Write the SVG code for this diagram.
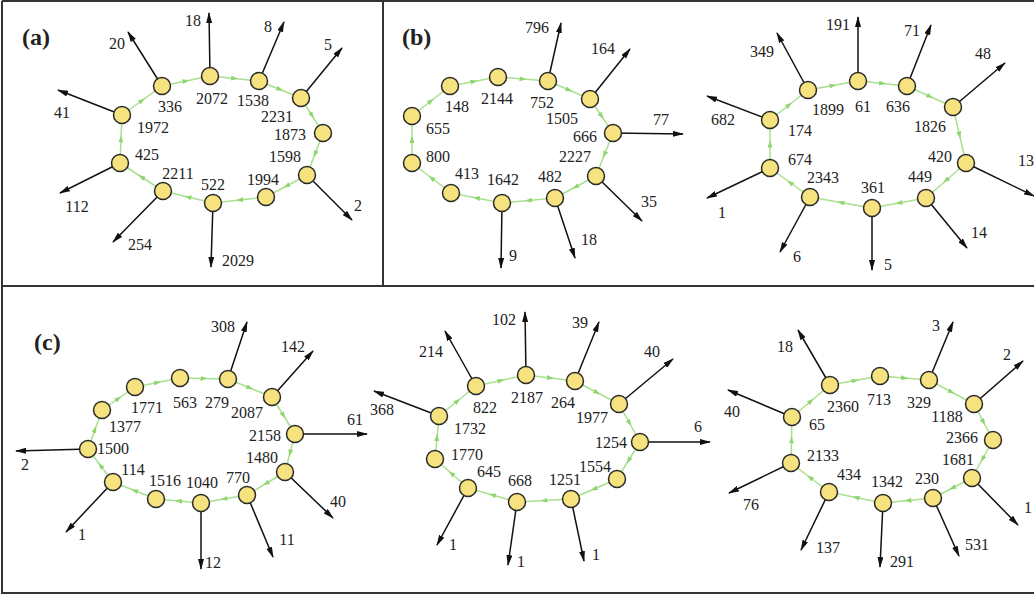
<svg xmlns="http://www.w3.org/2000/svg" width="1034" height="597" viewBox="0 0 1034 597">
<style>
.frame{stroke:#333;stroke-width:2;fill:none}
.node circle{fill:#F6E27E;stroke:#2a2a2a;stroke-width:1.5}
text{font-family:"Liberation Serif","Times New Roman",serif;font-size:16px;fill:#222;text-anchor:middle}
.panel{font-weight:bold;font-size:24px;text-anchor:start}
.ring{stroke:#A9E08E;stroke-width:1.5;fill:none;marker-mid:url(#ga)}
.out{stroke:#111;stroke-width:1.5;fill:none;marker-end:url(#ba)}
</style>
<defs>
<marker id="ga" viewBox="0 0 7 5" markerWidth="7" markerHeight="5" refX="3.5" refY="2.5" orient="auto" markerUnits="userSpaceOnUse"><path d="M0,0 L7,2.5 L0,5 z" fill="#8FD670"/></marker>
<marker id="ba" viewBox="0 0 11 6" markerWidth="11" markerHeight="6" refX="10" refY="3" orient="auto" markerUnits="userSpaceOnUse"><path d="M0,0 L11,3 L0,6 z" fill="#111"/></marker>
</defs>
<rect width="1034" height="597" fill="#fff"/>
<g id="frame">
<path class="frame" d="M2,1 H1034 M2,1 V593 H1034 M383,1 V286 M2,286 H1034"/>
</g>
<g id="panel-labels">
<text class="panel" x="22" y="45">(a)</text>
<text class="panel" x="402" y="45">(b)</text>
<text class="panel" x="34" y="350">(c)</text>
</g>
<g id="connectors">
<!-- ring (a) -->
<path class="ring" d="M162,86 L186,81 L210,76"/>
<path class="ring" d="M210,76 L234.5,78.5 L259,81"/>
<path class="ring" d="M259,81 L280,89.5 L301,98"/>
<path class="ring" d="M301,98 L312,115.5 L323,133"/>
<path class="ring" d="M323,133 L315,154 L307,175"/>
<path class="ring" d="M307,175 L286.5,186 L266,197"/>
<path class="ring" d="M266,197 L239.5,200 L213,203"/>
<path class="ring" d="M213,203 L188,197 L163,191"/>
<path class="ring" d="M163,191 L141.5,177 L120,163"/>
<path class="ring" d="M120,163 L121,139 L122,115"/>
<path class="ring" d="M122,115 L142,100.5 L162,86"/>
<!-- ring (b) left -->
<path class="ring" d="M450,86 L474,81.5 L498,77"/>
<path class="ring" d="M498,77 L523,79 L548,81"/>
<path class="ring" d="M548,81 L569,90 L590,99"/>
<path class="ring" d="M590,99 L601.5,116 L613,133"/>
<path class="ring" d="M613,133 L604.5,154.5 L596,176"/>
<path class="ring" d="M596,176 L575.5,187 L555,198"/>
<path class="ring" d="M555,198 L528.5,200.5 L502,203"/>
<path class="ring" d="M502,203 L476.5,198 L451,193"/>
<path class="ring" d="M451,193 L431.5,178 L412,163"/>
<path class="ring" d="M412,163 L412,139.5 L412,116"/>
<path class="ring" d="M412,116 L431,101 L450,86"/>
<!-- ring (b) right -->
<path class="ring" d="M808,90 L833,85.5 L858,81"/>
<path class="ring" d="M858,81 L882.5,83.5 L907,86"/>
<path class="ring" d="M907,86 L930,96.5 L953,107"/>
<path class="ring" d="M953,107 L959.5,135 L966,163"/>
<path class="ring" d="M966,163 L946,180.5 L926,198"/>
<path class="ring" d="M926,198 L899,203 L872,208"/>
<path class="ring" d="M872,208 L841,202.5 L810,197"/>
<path class="ring" d="M810,197 L790,182.5 L770,168"/>
<path class="ring" d="M770,168 L770,144 L770,120"/>
<path class="ring" d="M770,120 L789,105 L808,90"/>
<!-- ring (c) left -->
<path class="ring" d="M135,387 L157.5,382.5 L180,378"/>
<path class="ring" d="M180,378 L204,378.5 L228,379"/>
<path class="ring" d="M228,379 L250,388 L272,397"/>
<path class="ring" d="M272,397 L283.5,415.5 L295,434"/>
<path class="ring" d="M295,434 L290,453 L285,472"/>
<path class="ring" d="M285,472 L266,483.5 L247,495"/>
<path class="ring" d="M247,495 L224,499 L201,503"/>
<path class="ring" d="M201,503 L178.5,501 L156,499"/>
<path class="ring" d="M156,499 L134.5,490.5 L113,482"/>
<path class="ring" d="M113,482 L100.5,465.5 L88,449"/>
<path class="ring" d="M88,449 L95,429.5 L102,410"/>
<path class="ring" d="M102,410 L118.5,398.5 L135,387"/>
<!-- ring (c) middle -->
<path class="ring" d="M476,386 L501,380.5 L526,375"/>
<path class="ring" d="M526,375 L550.5,378 L575,381"/>
<path class="ring" d="M575,381 L597,392.5 L619,404"/>
<path class="ring" d="M619,404 L629.5,423 L640,442"/>
<path class="ring" d="M640,442 L628.5,460.5 L617,479"/>
<path class="ring" d="M617,479 L594,489 L571,499"/>
<path class="ring" d="M571,499 L544,500.5 L517,502"/>
<path class="ring" d="M517,502 L492.5,495 L468,488"/>
<path class="ring" d="M468,488 L451.5,473.5 L435,459"/>
<path class="ring" d="M435,459 L437,437.5 L439,416"/>
<path class="ring" d="M439,416 L457.5,401 L476,386"/>
<!-- ring (c) right -->
<path class="ring" d="M830,385 L855,380.5 L880,376"/>
<path class="ring" d="M880,376 L904.5,378 L929,380"/>
<path class="ring" d="M929,380 L951.5,392 L974,404"/>
<path class="ring" d="M974,404 L983.5,422 L993,440"/>
<path class="ring" d="M993,440 L982.5,459 L972,478"/>
<path class="ring" d="M972,478 L952.5,488 L933,498"/>
<path class="ring" d="M933,498 L908,500.5 L883,503"/>
<path class="ring" d="M883,503 L856,497.5 L829,492"/>
<path class="ring" d="M829,492 L810,477.5 L791,463"/>
<path class="ring" d="M791,463 L791.5,440 L792,417"/>
<path class="ring" d="M792,417 L811,401 L830,385"/>

<!-- outgoing arrows (a) -->
<path class="out" d="M162,86 L128,32"/><text x="117" y="49">20</text>
<path class="out" d="M210,76 L209,13"/><text x="193" y="26">18</text>
<path class="out" d="M259,81 L284,22"/><text x="268" y="32">8</text>
<path class="out" d="M301,98 L342,48"/><text x="328" y="50">5</text>
<path class="out" d="M122,115 L58,90"/><text x="62" y="118">41</text>
<path class="out" d="M120,163 L60,193"/><text x="77" y="212">112</text>
<path class="out" d="M163,191 L113,242"/><text x="140" y="250">254</text>
<path class="out" d="M213,203 L211,267"/><text x="238" y="266">2029</text>
<path class="out" d="M307,175 L352,220"/><text x="358" y="211">2</text>
<!-- outgoing arrows (b) left -->
<path class="out" d="M548,81 L561,23"/><text x="537" y="33">796</text>
<path class="out" d="M590,99 L630,49"/><text x="603" y="54">164</text>
<path class="out" d="M613,133 L683,134"/><text x="661" y="125">77</text>
<path class="out" d="M596,176 L642,221"/><text x="649" y="207">35</text>
<path class="out" d="M555,198 L575,258"/><text x="589" y="245">18</text>
<path class="out" d="M502,203 L501,268"/><text x="513" y="261">9</text>
<!-- outgoing arrows (b) right -->
<path class="out" d="M808,90 L777,33"/><text x="762" y="57">349</text>
<path class="out" d="M858,81 L858,17"/><text x="838" y="30">191</text>
<path class="out" d="M907,86 L931,25"/><text x="912" y="36">71</text>
<path class="out" d="M953,107 L1005,63"/><text x="983" y="59">48</text>
<path class="out" d="M770,120 L707,96"/><text x="723" y="125">682</text>
<path class="out" d="M770,168 L707,198"/><text x="722" y="218">1</text>
<path class="out" d="M810,197 L780,252"/><text x="797" y="262">6</text>
<path class="out" d="M872,208 L872,270"/><text x="888" y="270">5</text>
<path class="out" d="M926,198 L967,248"/><text x="979" y="238">14</text>
<path class="out" d="M966,163 L1034,196"/><text x="1026" y="166">13</text>
<!-- outgoing arrows (c) left -->
<path class="out" d="M228,379 L247,322"/><text x="223" y="332">308</text>
<path class="out" d="M272,397 L313,351"/><text x="293" y="352">142</text>
<path class="out" d="M295,434 L367,434"/><text x="355" y="425">61</text>
<path class="out" d="M285,472 L333,518"/><text x="338" y="507">40</text>
<path class="out" d="M247,495 L273,557"/><text x="287" y="545">11</text>
<path class="out" d="M201,503 L201,569"/><text x="213" y="568">12</text>
<path class="out" d="M113,482 L66,532"/><text x="82" y="540">1</text>
<path class="out" d="M88,449 L16,451"/><text x="25" y="470">2</text>
<!-- outgoing arrows (c) middle -->
<path class="out" d="M476,386 L445,331"/><text x="431" y="357">214</text>
<path class="out" d="M526,375 L525,312"/><text x="504" y="325">102</text>
<path class="out" d="M575,381 L599,322"/><text x="580" y="328">39</text>
<path class="out" d="M619,404 L673,359"/><text x="652" y="357">40</text>
<path class="out" d="M640,442 L710,442"/><text x="698" y="432">6</text>
<path class="out" d="M439,416 L374,391"/><text x="382" y="415">368</text>
<path class="out" d="M468,488 L437,545"/><text x="453" y="550">1</text>
<path class="out" d="M517,502 L508,565"/><text x="521" y="567">1</text>
<path class="out" d="M571,499 L584,561"/><text x="596" y="560">1</text>
<!-- outgoing arrows (c) right -->
<path class="out" d="M830,385 L798,330"/><text x="785" y="352">18</text>
<path class="out" d="M792,417 L728,390"/><text x="732" y="417">40</text>
<path class="out" d="M929,380 L953,322"/><text x="936" y="331">3</text>
<path class="out" d="M974,404 L1023,361"/><text x="1007" y="360">2</text>
<path class="out" d="M972,478 L1018,525"/><text x="1028" y="513">1</text>
<path class="out" d="M933,498 L959,556"/><text x="977" y="550">531</text>
<path class="out" d="M883,503 L880,567"/><text x="902" y="567">291</text>
<path class="out" d="M829,492 L801,550"/><text x="828" y="553">137</text>
<path class="out" d="M791,463 L729,493"/><text x="751" y="510">76</text>
</g>

<!-- nodes (a) -->
<g id="a-336" class="node"><circle cx="162" cy="86" r="8.5"/><text x="170" y="112">336</text></g>
<g id="a-2072" class="node"><circle cx="210" cy="76" r="8.5"/><text x="212" y="104">2072</text></g>
<g id="a-1538" class="node"><circle cx="259" cy="81" r="8.5"/><text x="253" y="106">1538</text></g>
<g id="a-2231" class="node"><circle cx="301" cy="98" r="8.5"/><text x="277" y="122">2231</text></g>
<g id="a-1873" class="node"><circle cx="323" cy="133" r="8.5"/><text x="290" y="140">1873</text></g>
<g id="a-1598" class="node"><circle cx="307" cy="175" r="8.5"/><text x="285" y="162">1598</text></g>
<g id="a-1994" class="node"><circle cx="266" cy="197" r="8.5"/><text x="263" y="185">1994</text></g>
<g id="a-522" class="node"><circle cx="213" cy="203" r="8.5"/><text x="213" y="190">522</text></g>
<g id="a-2211" class="node"><circle cx="163" cy="191" r="8.5"/><text x="178" y="179">2211</text></g>
<g id="a-425" class="node"><circle cx="120" cy="163" r="8.5"/><text x="147" y="160">425</text></g>
<g id="a-1972" class="node"><circle cx="122" cy="115" r="8.5"/><text x="153" y="133">1972</text></g>
<!-- nodes (b) left -->
<g id="b1-148" class="node"><circle cx="450" cy="86" r="8.5"/><text x="457" y="112">148</text></g>
<g id="b1-2144" class="node"><circle cx="498" cy="77" r="8.5"/><text x="497" y="104">2144</text></g>
<g id="b1-752" class="node"><circle cx="548" cy="81" r="8.5"/><text x="542" y="108">752</text></g>
<g id="b1-1505" class="node"><circle cx="590" cy="99" r="8.5"/><text x="562" y="124">1505</text></g>
<g id="b1-666" class="node"><circle cx="613" cy="133" r="8.5"/><text x="585" y="142">666</text></g>
<g id="b1-2227" class="node"><circle cx="596" cy="176" r="8.5"/><text x="575" y="162">2227</text></g>
<g id="b1-482" class="node"><circle cx="555" cy="198" r="8.5"/><text x="550" y="182">482</text></g>
<g id="b1-1642" class="node"><circle cx="502" cy="203" r="8.5"/><text x="503" y="185">1642</text></g>
<g id="b1-413" class="node"><circle cx="451" cy="193" r="8.5"/><text x="467" y="179">413</text></g>
<g id="b1-800" class="node"><circle cx="412" cy="163" r="8.5"/><text x="438" y="162">800</text></g>
<g id="b1-655" class="node"><circle cx="412" cy="116" r="8.5"/><text x="438" y="134">655</text></g>
<!-- nodes (b) right -->
<g id="b2-1899" class="node"><circle cx="808" cy="90" r="8.5"/><text x="828" y="115">1899</text></g>
<g id="b2-61" class="node"><circle cx="858" cy="81" r="8.5"/><text x="863" y="112">61</text></g>
<g id="b2-636" class="node"><circle cx="907" cy="86" r="8.5"/><text x="898" y="112">636</text></g>
<g id="b2-1826" class="node"><circle cx="953" cy="107" r="8.5"/><text x="930" y="132">1826</text></g>
<g id="b2-420" class="node"><circle cx="966" cy="163" r="8.5"/><text x="940" y="162">420</text></g>
<g id="b2-449" class="node"><circle cx="926" cy="198" r="8.5"/><text x="920" y="182">449</text></g>
<g id="b2-361" class="node"><circle cx="872" cy="208" r="8.5"/><text x="873" y="193">361</text></g>
<g id="b2-2343" class="node"><circle cx="810" cy="197" r="8.5"/><text x="823" y="183">2343</text></g>
<g id="b2-674" class="node"><circle cx="770" cy="168" r="8.5"/><text x="800" y="165">674</text></g>
<g id="b2-174" class="node"><circle cx="770" cy="120" r="8.5"/><text x="800" y="136">174</text></g>
<!-- nodes (c) left -->
<g id="c1-1771" class="node"><circle cx="135" cy="387" r="8.5"/><text x="147" y="413">1771</text></g>
<g id="c1-563" class="node"><circle cx="180" cy="378" r="8.5"/><text x="185" y="408">563</text></g>
<g id="c1-279" class="node"><circle cx="228" cy="379" r="8.5"/><text x="217" y="408">279</text></g>
<g id="c1-2087" class="node"><circle cx="272" cy="397" r="8.5"/><text x="247" y="418">2087</text></g>
<g id="c1-2158" class="node"><circle cx="295" cy="434" r="8.5"/><text x="265" y="441">2158</text></g>
<g id="c1-1480" class="node"><circle cx="285" cy="472" r="8.5"/><text x="262" y="463">1480</text></g>
<g id="c1-770" class="node"><circle cx="247" cy="495" r="8.5"/><text x="238" y="483">770</text></g>
<g id="c1-1040" class="node"><circle cx="201" cy="503" r="8.5"/><text x="202" y="488">1040</text></g>
<g id="c1-1516" class="node"><circle cx="156" cy="499" r="8.5"/><text x="165" y="486">1516</text></g>
<g id="c1-114" class="node"><circle cx="113" cy="482" r="8.5"/><text x="133" y="475">114</text></g>
<g id="c1-1500" class="node"><circle cx="88" cy="449" r="8.5"/><text x="113" y="454">1500</text></g>
<g id="c1-1377" class="node"><circle cx="102" cy="410" r="8.5"/><text x="125" y="432">1377</text></g>
<!-- nodes (c) middle -->
<g id="c2-822" class="node"><circle cx="476" cy="386" r="8.5"/><text x="485" y="413">822</text></g>
<g id="c2-2187" class="node"><circle cx="526" cy="375" r="8.5"/><text x="527" y="403">2187</text></g>
<g id="c2-264" class="node"><circle cx="575" cy="381" r="8.5"/><text x="563" y="408">264</text></g>
<g id="c2-1977" class="node"><circle cx="619" cy="404" r="8.5"/><text x="592" y="423">1977</text></g>
<g id="c2-1254" class="node"><circle cx="640" cy="442" r="8.5"/><text x="611" y="448">1254</text></g>
<g id="c2-1554" class="node"><circle cx="617" cy="479" r="8.5"/><text x="595" y="472">1554</text></g>
<g id="c2-1251" class="node"><circle cx="571" cy="499" r="8.5"/><text x="565" y="485">1251</text></g>
<g id="c2-668" class="node"><circle cx="517" cy="502" r="8.5"/><text x="520" y="486">668</text></g>
<g id="c2-645" class="node"><circle cx="468" cy="488" r="8.5"/><text x="489" y="477">645</text></g>
<g id="c2-1770" class="node"><circle cx="435" cy="459" r="8.5"/><text x="467" y="460">1770</text></g>
<g id="c2-1732" class="node"><circle cx="439" cy="416" r="8.5"/><text x="470" y="434">1732</text></g>
<!-- nodes (c) right -->
<g id="c3-2360" class="node"><circle cx="830" cy="385" r="8.5"/><text x="843" y="412">2360</text></g>
<g id="c3-713" class="node"><circle cx="880" cy="376" r="8.5"/><text x="879" y="405">713</text></g>
<g id="c3-329" class="node"><circle cx="929" cy="380" r="8.5"/><text x="919" y="408">329</text></g>
<g id="c3-1188" class="node"><circle cx="974" cy="404" r="8.5"/><text x="947" y="422">1188</text></g>
<g id="c3-2366" class="node"><circle cx="993" cy="440" r="8.5"/><text x="962" y="443">2366</text></g>
<g id="c3-1681" class="node"><circle cx="972" cy="478" r="8.5"/><text x="958" y="465">1681</text></g>
<g id="c3-230" class="node"><circle cx="933" cy="498" r="8.5"/><text x="927" y="484">230</text></g>
<g id="c3-1342" class="node"><circle cx="883" cy="503" r="8.5"/><text x="887" y="487">1342</text></g>
<g id="c3-434" class="node"><circle cx="829" cy="492" r="8.5"/><text x="849" y="480">434</text></g>
<g id="c3-2133" class="node"><circle cx="791" cy="463" r="8.5"/><text x="823" y="461">2133</text></g>
<g id="c3-65" class="node"><circle cx="792" cy="417" r="8.5"/><text x="817" y="430">65</text></g>
</svg>
